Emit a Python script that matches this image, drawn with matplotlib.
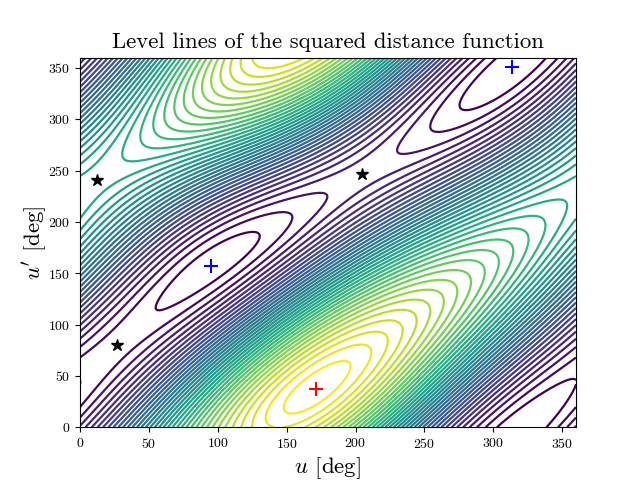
import numpy as np
import matplotlib
matplotlib.use("Agg")
import matplotlib.pyplot as plt

plt.rcParams['font.family'] = ['cmr10', 'DejaVu Serif']
plt.rcParams['mathtext.fontset'] = 'cm'
plt.rcParams['axes.unicode_minus'] = False
plt.rcParams['axes.formatter.use_mathtext'] = True

N_LEVELS = 38

# marked stationary points
minima_u = [95.0, 313.5]
minima_v = [157.5, 350.5]
maximum_u = [171.3]
maximum_v = [37.5]
saddle_u = [26.9, 12.3, 204.7]
saddle_v = [80.0, 241.0, 246.5]
# contour level index at those points (top level counted from N_LEVELS)
crit_u = minima_u + saddle_u + maximum_u
crit_v = minima_v + saddle_v + maximum_v
crit_level = [0.5, 0.5, 1.6, N_LEVELS - 14.5, 3.5, N_LEVELS + 0.6]

# points where a contour line of known index passes
low_u = [55.9, 129, 96.5, 96.5, 72.6, 273, 302, 339, 302.6, 283, 358, 302, 340, 326.6,
         0, 0, 360, 360, 348, 348, 154.6, 252,
         0, 0, 360, 355, 181.5, 226]
low_v = [116, 189, 141.5, 174.6, 146, 309, 360, 360, 321, 334, 43, 0, 0, 33,
         68.6, 21.5, 67, 18.5, 0, 360, 208.8, 292.7,
         10.7, 75, 8, 0, 228, 265]
low_level = [1] * 14 + [2] * 8 + [3] * 6

top_u = [147, 196, 134, 210.5, 222.8, 233.7, 244.6, 254, 262.7, 273.6, 282, 292.5, 303.4, 314,
         324.4, 336, 352, 31.2, 44.8, 53.7, 60.4, 125, 125, 162, 162, 115.4, 0, 0, 0, 0]
top_v = [16.6, 62, 10, 72, 82, 91.7, 104, 109, 121, 130.7, 146, 156, 166, 172.7,
         182.4, 197, 213.6, 265, 285, 296.6, 307, 0, 360, 0, 360, 360, 207, 246, 265, 189]
top_drop = [0, 0, 1, 1, 2, 3, 4, 5, 6, 7, 8, 9, 10, 11,
            12, 13, 14, 14, 13, 12, 11, 2, 2, 2, 2, 3, 15, 15, 16, 16]


def basis(u, v):
    a, b = np.radians(u), np.radians(v)
    return np.stack([np.ones_like(a), np.cos(a), np.sin(a), np.cos(2*a), np.sin(2*a),
                     np.cos(b), np.sin(b), np.cos(2*b), np.sin(2*b),
                     np.cos(a)*np.cos(b), np.cos(a)*np.sin(b),
                     np.sin(a)*np.cos(b), np.sin(a)*np.sin(b)], axis=-1)


def gradients(u, v, h=0.5):
    return ((basis(u+h, v) - basis(u-h, v)) / (2*np.radians(h)),
            (basis(u, v+h) - basis(u, v-h)) / (2*np.radians(h)))


au = np.array(low_u + top_u + crit_u, float)
av = np.array(low_v + top_v + crit_v, float)
al = np.array(low_level + [N_LEVELS - d for d in top_drop] + crit_level, float)
cu, cv = np.array(crit_u), np.array(crit_v)
gu, gv = gradients(cu, cv)
W = 3.0
A = np.vstack([basis(au, av), W*gu, W*gv])
y = np.concatenate([al, np.zeros(2*len(cu))])
coef, *_ = np.linalg.lstsq(A, y, rcond=None)

grid_u = np.linspace(0, 360, 361)
grid_v = np.linspace(0, 360, 361)
U, V = np.meshgrid(grid_u, grid_v)
Z = basis(U, V) @ coef

fig, ax = plt.subplots(figsize=(6.4, 4.8), dpi=100)
ax.contour(U, V, Z, levels=np.arange(1, N_LEVELS + 1), cmap='viridis', linewidths=1.6)
ax.plot(minima_u, minima_v, '+', color='blue', ms=9.5, mew=1.5, ls='none')
ax.plot(maximum_u, maximum_v, '+', color='red', ms=9.5, mew=1.5, ls='none')
ax.plot(saddle_u, saddle_v, '*', color='black', ms=9, ls='none')
ax.set_xlim(0, 360)
ax.set_ylim(0, 360)
ax.set_xlabel(r"$u$ [deg]", fontsize=16.5, labelpad=3)
ax.set_ylabel(r"$u'$ [deg]", fontsize=16.5, labelpad=-1)
ax.set_title("Level lines of the squared distance function", fontsize=16.4, pad=7)
fig.savefig("out.png", dpi=100)
